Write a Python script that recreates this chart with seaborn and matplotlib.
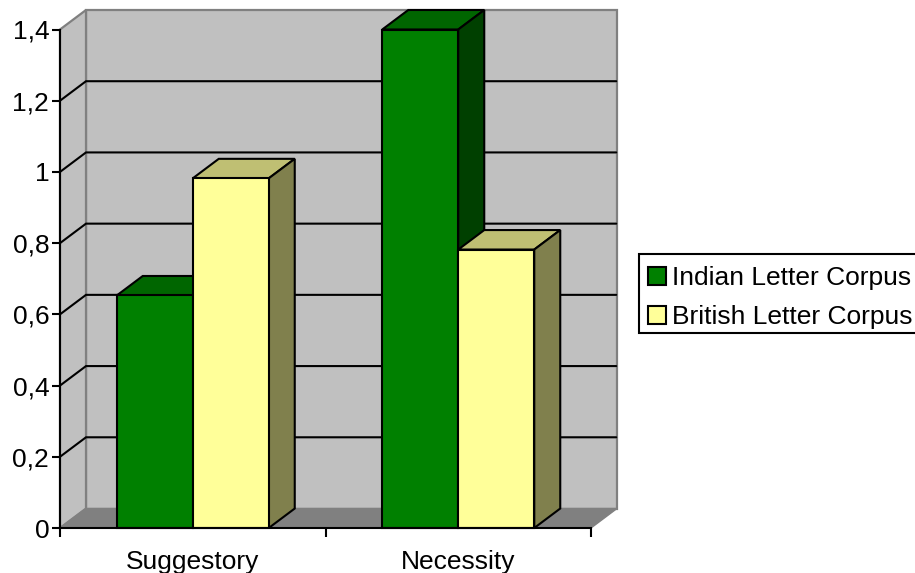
import matplotlib
matplotlib.use("Agg")
import matplotlib.pyplot as plt
from matplotlib.patches import Polygon, Rectangle
import pandas as pd
import seaborn as sns

categories = ["Suggestory", "Necessity"]
series_names = ["Indian Letter Corpus", "British Letter Corpus"]
indian_values = [0.653, 1.4]
british_values = [0.982, 0.782]
y_ticks = [0, 0.2, 0.4, 0.6, 0.8, 1, 1.2, 1.4]
y_tick_labels = ["0", "0,2", "0,4", "0,6", "0,8", "1", "1,2", "1,4"]

front_colors = ["#008000", "#FFFF99"]
top_colors = ["#006600", "#BFBF73"]
side_colors = ["#004000", "#80804D"]
WALL = "#C0C0C0"
WALL_EDGE = "#808080"
LINE_W = 1.5
FONT_SIZE = 19

sns.set_theme(style="white")
plt.rcParams["font.family"] = ["Liberation Sans", "DejaVu Sans"]

W, H = 915, 573
fig = plt.figure(figsize=(W / 100, H / 100), dpi=100, facecolor="white")
ax = fig.add_axes([60 / W, (H - 528) / H, 531 / W, 498.5 / H])

df = pd.DataFrame({
    "category": categories * 2,
    "corpus": [series_names[0]] * 2 + [series_names[1]] * 2,
    "value": indian_values + british_values,
})
sns.barplot(
    data=df, x="category", y="value", hue="corpus", hue_order=series_names,
    order=categories, palette=front_colors, saturation=1, width=0.5725,
    edgecolor="black", linewidth=LINE_W, legend=False, ax=ax,
)
bars = sorted(ax.patches, key=lambda p: p.get_x())
ax.set_xlim(-0.5, 1.5)
ax.set_ylim(0, 1.4)

# Oblique depth of the 3D box, expressed in data units
DX = 26 / 531 * 2
DY = 19.5 / 498.5 * 1.4
x0, x1 = ax.get_xlim()
y0, y1 = ax.get_ylim()


def face(points, color, edge, z, lw=LINE_W):
    ax.add_patch(Polygon(points, closed=True, facecolor=color, edgecolor=edge,
                         linewidth=lw, zorder=z, clip_on=False, joinstyle="miter"))


# Back wall, left wall and floor of the box
face([(x0 + DX, y0 + DY), (x1 + DX, y0 + DY), (x1 + DX, y1 + DY), (x0 + DX, y1 + DY)],
     WALL, WALL_EDGE, 0.1, 1.6)
face([(x0, y0), (x0 + DX, y0 + DY), (x0 + DX, y1 + DY), (x0, y1)],
     WALL, WALL_EDGE, 0.2, 1.6)
face([(x0, y0), (x1, y0), (x1 + DX, y0 + DY), (x0 + DX, y0 + DY)],
     WALL_EDGE, WALL_EDGE, 0.3, 1.0)

# Gridlines run along the back wall and fold down the left wall
for tick in y_ticks[1:-1]:
    ax.plot([x0, x0 + DX, x1 + DX * 0.97], [tick, tick + DY, tick + DY], color="black",
            lw=LINE_W, zorder=0.5, clip_on=False, solid_joinstyle="miter")

# Each bar gets a top and a side face, stacked left to right so nearer bars overlap
for i, bar in enumerate(bars):
    s = i % 2
    left, right = bar.get_x(), bar.get_x() + bar.get_width()
    top = bar.get_height()
    z = 2 + i
    face([(left, top), (right, top), (right + DX, top + DY), (left + DX, top + DY)],
         top_colors[s], "black", z)
    face([(right, 0), (right + DX, DY), (right + DX, top + DY), (right, top)],
         side_colors[s], "black", z)
    bar.set_zorder(z + 0.5)
    bar.set_clip_on(False)

ax.set_xlabel("")
ax.set_ylabel("")
ax.set_yticks(y_ticks, y_tick_labels)
ax.set_xticks([0, 1], categories)
ax.set_xticks([-0.5, 0.5, 1.5], minor=True)
ax.tick_params(axis="y", which="major", left=True, length=5.5, width=LINE_W, color="black",
               labelsize=FONT_SIZE, pad=2.3, labelcolor="black")
ax.tick_params(axis="x", which="major", bottom=False, labelsize=FONT_SIZE, pad=10, labelcolor="black")
ax.tick_params(axis="x", which="minor", bottom=True, length=6.5, width=LINE_W, color="black")
for side in ("top", "right"):
    ax.spines[side].set_visible(False)
for side in ("left", "bottom"):
    ax.spines[side].set_visible(True)
    ax.spines[side].set_color("black")
    ax.spines[side].set_linewidth(LINE_W)
    ax.spines[side].set_zorder(10)
ax.patch.set_visible(False)
ax.grid(False)

# Legend frame runs past the right-hand edge of the figure
fig.add_artist(Rectangle((639 / W, 1 - 333 / H), 290 / W, 79 / H, transform=fig.transFigure,
                         facecolor="white", edgecolor="black", linewidth=LINE_W))
handles = [Rectangle((0, 0), 1, 1, facecolor=c, edgecolor="black", linewidth=LINE_W)
           for c in front_colors]
fig.legend(
    handles, series_names, loc="upper left",
    bbox_to_anchor=(639 / W, 1 - 257 / H), bbox_transform=fig.transFigure,
    borderaxespad=0, fontsize=FONT_SIZE, frameon=False, labelcolor="black",
    handlelength=0.68, handleheight=0.68, handletextpad=0.23,
    labelspacing=0.575, borderpad=0.34,
)

fig.savefig("out.png", dpi=100)
